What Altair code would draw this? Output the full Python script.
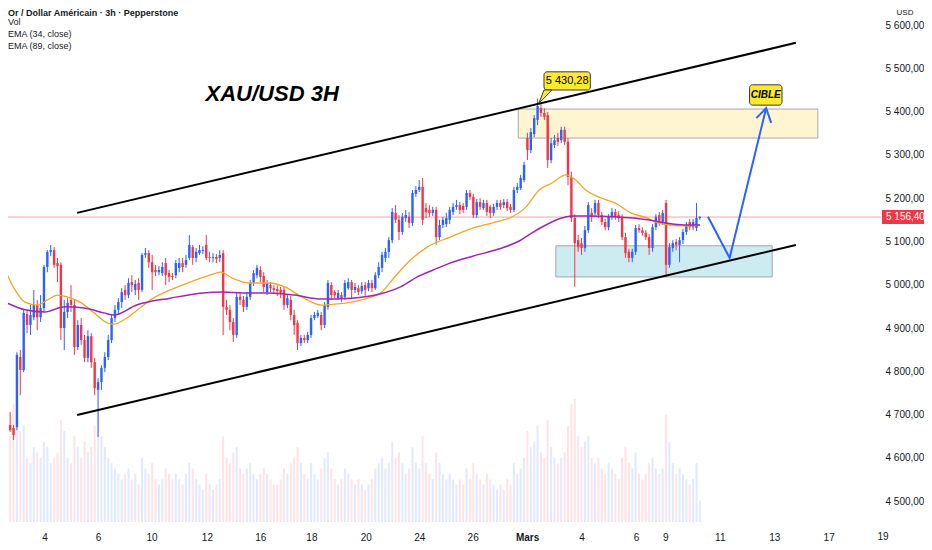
import altair as alt
import pandas as pd

# ---------------- 3h candles (USD) ----------------
opens = [4699,4676,4669,4671,4833,4803,4932,4907,4925,4953,
 4925,4946,5041,5076,5080,5050,5046,4900,4937,4965,
 4953,4856,4907,4872,4831,4881,4821,4757,4775,4808,
 4833,4872,4923,4942,4960,4988,4976,5006,4988,5004,
 4988,5069,5073,5052,5034,5029,5027,5050,5027,5020,
 5022,5039,5050,5046,5062,5087,5062,5073,5078,5092,
 5064,5062,5064,5062,5073,4949,4942,4914,4884,4972,
 4965,4949,4972,5004,5022,5034,5020,4983,4999,4992,
 4990,4988,4988,4953,4965,4930,4912,4865,4877,4872,
 4884,4923,4928,4930,4907,4949,4999,4983,4969,4976,
 4972,4992,5006,4988,4992,4985,4999,4992,5004,4992,
 5022,5039,5062,5076,5103,5166,5150,5122,5154,5157,
 5143,5210,5219,5226,5177,5173,5166,5173,5110,5138,
 5140,5150,5168,5180,5184,5182,5180,5212,5203,5161,
 5191,5177,5189,5180,5166,5180,5189,5184,5191,5180,
 5173,5219,5223,5242,5339,5311,5348,5381,5408,5397,
 5392,5288,5323,5339,5334,5358,5330,5249,5154,5103,
 5096,5085,5126,5166,5166,5189,5161,5145,5133,5157,
 5168,5161,5157,5110,5076,5062,5076,5131,5126,5120,
 5110,5085,5133,5161,5145,5189,5046,5085,5099,5092,
 5103,5122,5145,5133,5131,5154]
closes = [4676,4664,4653,4838,4803,4935,4907,4930,4953,4925,
 4946,5041,5076,5080,5046,5043,4900,4937,4958,4953,
 4856,4907,4872,4831,4881,4821,4761,4775,4808,4833,
 4872,4923,4942,4960,4983,4976,5004,4999,5002,4988,
 5069,5073,5052,5029,5029,5034,5041,5022,5018,5018,
 5050,5050,5041,5057,5092,5062,5076,5080,5080,5062,
 5062,5064,5059,5069,4949,4942,4914,4884,4972,4965,
 4949,4972,5004,5027,5039,5018,4995,5004,4992,4988,
 4985,4981,4953,4969,4930,4907,4865,4877,4872,4884,
 4923,4930,4935,4907,4953,5004,4976,4976,4981,4969,
 5004,5006,4988,4995,4983,4997,4988,5004,4992,5022,
 5041,5069,5076,5103,5168,5150,5122,5157,5161,5143,
 5212,5219,5226,5150,5168,5166,5173,5110,5138,5150,
 5154,5173,5180,5184,5173,5173,5212,5203,5161,5191,
 5180,5189,5168,5166,5180,5189,5180,5191,5177,5173,
 5219,5226,5247,5277,5311,5353,5385,5413,5397,5388,
 5288,5327,5334,5330,5358,5330,5249,5154,5096,5087,
 5085,5126,5184,5157,5189,5161,5145,5133,5157,5168,
 5157,5154,5110,5073,5062,5076,5131,5126,5120,5110,
 5085,5133,5157,5145,5166,5046,5087,5096,5092,5103,
 5122,5138,5133,5145,5154,5156.4]
highs = [4722,4706,4676,4844,4849,4942,4942,4953,4988,4965,
 4976,5046,5080,5092,5087,5062,5052,4965,4969,4999,
 4965,4918,4923,4884,4895,4888,4831,4784,4814,4844,
 4884,4930,4953,4969,4992,4999,5015,5022,5011,5015,
 5073,5085,5080,5069,5046,5043,5052,5062,5034,5027,
 5057,5062,5062,5069,5115,5092,5085,5092,5089,5115,
 5076,5073,5071,5080,5080,4965,4953,4923,4983,4981,
 4974,4983,5011,5034,5046,5043,5029,5011,5006,4999,
 4999,4995,4997,4976,4974,4942,4918,4884,4884,4891,
 4930,4937,4942,4937,4960,5011,5006,4988,4988,4983,
 5011,5015,5011,5004,4999,5006,5006,5011,5011,5029,
 5052,5076,5085,5110,5177,5184,5161,5166,5173,5168,
 5219,5228,5242,5247,5189,5184,5180,5180,5150,5157,
 5166,5180,5189,5196,5191,5189,5219,5219,5210,5198,
 5200,5196,5196,5184,5187,5196,5196,5198,5198,5187,
 5226,5235,5254,5284,5351,5362,5392,5430.28,5418,5408,
 5399,5339,5346,5351,5365,5365,5339,5261,5163,5115,
 5108,5136,5191,5177,5196,5196,5168,5152,5163,5177,
 5175,5170,5163,5120,5083,5083,5138,5140,5133,5126,
 5117,5140,5163,5168,5173,5196,5096,5103,5106,5110,
 5129,5145,5152,5152,5189,5159]
lows = [4669,4660,4641,4664,4745,4798,4888,4884,4918,4895,
 4914,4937,5029,5066,5039,5006,4872,4849,4923,4937,
 4838,4849,4861,4821,4821,4808,4745,4648,4757,4798,
 4826,4865,4914,4930,4946,4965,4969,4983,4976,4965,
 4983,5062,5039,4988,5020,5022,5020,4999,5006,5011,
 5015,5029,5029,5039,5057,5046,5052,5069,5071,5057,
 5052,5052,5050,5052,4884,4930,4895,4868,4877,4953,
 4937,4942,4965,4997,5015,5006,4983,4976,4983,4979,
 4974,4969,4942,4946,4918,4884,4849,4858,4865,4865,
 4877,4918,4923,4895,4900,4942,4965,4969,4965,4960,
 4965,4988,4969,4981,4976,4979,4974,4985,4983,4988,
 5015,5029,5052,5062,5096,5143,5103,5115,5145,5131,
 5136,5203,5214,5138,5154,5157,5159,5092,5103,5131,
 5133,5140,5161,5173,5163,5166,5173,5196,5154,5154,
 5173,5173,5159,5154,5159,5173,5173,5177,5170,5166,
 5168,5212,5219,5237,5288,5304,5341,5369,5388,5381,
 5270,5281,5316,5321,5327,5323,5230,5145,4995,5076,
 5069,5076,5120,5145,5159,5154,5138,5126,5126,5150,
 5150,5145,5103,5062,5052,5052,5069,5120,5113,5103,
 5069,5076,5126,5136,5138,5018,5039,5076,5080,5052,
 5094,5115,5126,5126,5124,5150]
volumes = [95,80,110,100,85,90,60,55,70,65,
 60,75,70,55,60,65,95,85,60,55,
 80,70,60,75,65,70,90,105,80,70,
 60,55,50,45,40,45,50,40,45,35,
 60,50,45,55,40,35,40,50,45,40,
 45,40,35,45,55,50,40,35,30,45,
 35,30,35,40,80,60,55,65,70,50,
 45,50,55,45,40,45,50,45,40,35,
 35,40,50,45,55,60,70,55,45,40,
 55,45,40,50,60,65,50,40,35,40,
 50,45,40,35,40,35,30,35,40,50,
 55,60,50,55,75,60,65,55,45,50,
 70,55,50,80,55,45,40,65,55,45,
 40,45,40,35,40,35,50,40,55,45,
 40,35,45,40,35,30,35,30,40,35,
 55,45,50,60,85,70,75,90,65,60,
 95,70,60,55,60,65,90,110,115,80,
 70,75,80,60,55,60,50,45,55,50,
 45,40,60,70,55,50,65,45,40,45,
 55,60,50,45,50,100,75,55,45,50,
 45,40,35,40,55,20]

# ---------------- EMA readings (bar position, price) ----------------
ema34_pos = [-0.5,2.43,5.35,9.15,12.08,15.0,17.92,22.02,25.82,29.62,31.67,35.47,38.98,43.36,48.33,
             54.18,60.03,63.25,66.75,71.73,77.57,82.25,87.22,93.07,96.87,101.84,106.81,110.61,114.42,
             119.39,124.36,131.08,137.81,143.65,149.5,153.6,157.49,161.29,165.39,168.3,171.23,174.94,
             179.91,184.59,189.56,192.49,196.29,200.38,205.06]
ema34_val = [5034,4988,4960,4953,4965,4976,4972,4958,4935,4912,4909,4923,4944,4969,4988,
             5006,5022,5029,5015,5004,5004,4995,4972,4953,4955,4960,4969,4981,5015,
             5057,5087,5110,5131,5143,5157,5180,5219,5235,5254,5242,5219,5203,
             5189,5166,5154,5143,5138,5136,5138]
ema89_pos = [-0.5,5.35,11.2,17.05,22.89,28.74,31.67,38.39,48.33,58.04,63.83,69.68,77.57,85.18,93.07,
             101.84,110.61,116.46,121.43,126.11,131.08,137.81,145.7,151.55,155.35,159.44,164.12,167.05,
             171.23,179.91,189.56,194.53,200.38,205.06]
ema89_val = [4960,4942,4937,4949,4946,4935,4930,4953,4969,4981,4983,4981,4981,4976,4967,
             4969,4979,4995,5018,5034,5050,5066,5083,5101,5120,5138,5154,5159,
             5159,5157,5150,5143,5138,5138]

# ---------------- drawings ----------------
channel_pos = [20.8, 233.4]
channel_upper = [5166, 5559]
channel_lower = [4699, 5092]
arrow_pos = [207.4, 213.8, 224.6]
arrow_val = [5157, 5062, 5408]
head_pos = [221.7, 224.6, 226.1]
head_val = [5385, 5408, 5374]
zone_x1 = [151.3, 162.4]
zone_x2 = [239.9, 226.4]
zone_top = [5406, 5090]
zone_bottom = [5339, 5018]
zone_fill = ["#fff5cc", "#c8ebf1"]
last_price = 5156.40

x_tick_pos = [11.2, 27.0, 42.8, 59.2, 75.0, 90.1, 106.2, 122.0, 137.8, 153.9,
              170.0, 186.1, 194.8, 210.9, 227.0, 243.1]
x_tick_txt = ["4", "6", "10", "12", "16", "18", "20", "24", "26", "Mars",
              "4", "6", "9", "11", "13", "17"]
x_last_pos = [259.2]
x_last_txt = ["19"]
y_ticks = [4500, 4600, 4700, 4800, 4900, 5000, 5100, 5200, 5300, 5400, 5500, 5600]

FONT = "Liberation Sans, Arial, sans-serif"
TXT = "#131722"

n = len(opens)
bars = pd.DataFrame({"bar": list(range(n)), "open": opens, "close": closes,
                     "high": highs, "low": lows, "vol": volumes})
bars["dir"] = ["up" if c >= o else "down" for o, c in zip(opens, closes)]

XS = alt.Scale(domain=[1.84, 257.1], nice=False, zero=False)
YS = alt.Scale(domain=[4451.7, 5639.5], nice=False, zero=False)
COL = alt.Scale(domain=["up", "down"], range=["#2962ff", "#f23645"])

label_expr = "''"
for p, t in reversed(list(zip(x_tick_pos, x_tick_txt))):
    label_expr = f"abs(datum.value - {p}) < 0.05 ? '{t}' : ({label_expr})"

x_axis = alt.Axis(values=x_tick_pos, labelExpr=label_expr, domain=False, ticks=False,
                  grid=False, labelFont=FONT, labelFontSize=10, labelColor=TXT, labelPadding=10,
                  labelFlush=False, labelOverlap=False, orient="bottom",
                  labelFontWeight={"condition": {"test": "abs(datum.value - 153.9) < 0.05", "value": "bold"},
                                   "value": "normal"})
y_axis = alt.Axis(orient="right", values=y_ticks,
                  labelExpr="replace(replace(format(datum.value, ',.2f'), ',', ' '), '.', ',')",
                  domain=False, ticks=False, grid=False, labelFont=FONT, labelFontSize=10,
                  labelColor=TXT, labelPadding=4, labelFlush=False, labelOverlap=False)


def X(field):
    return alt.X(field, scale=XS, title=None)


def Y(field):
    return alt.Y(field, scale=YS, title=None)


# volume (own y scale)
vol_layer = alt.Chart(bars).mark_bar(size=2, opacity=0.14).encode(
    x=X("bar:Q"),
    y=alt.Y("vol:Q", scale=alt.Scale(domain=[0, 480]), axis=None),
    color=alt.Color("dir:N", scale=COL, legend=None))

zones = pd.DataFrame({"x1": zone_x1, "x2": zone_x2, "top": zone_top, "bottom": zone_bottom, "fill": zone_fill})
zone_layer = alt.Chart(zones).mark_rect(stroke="#9aa0a6", strokeWidth=1, opacity=0.9).encode(
    x=alt.X("x1:Q", scale=XS, axis=x_axis, title=None), x2="x2:Q",
    y=alt.Y("top:Q", scale=YS, axis=y_axis, title=None), y2="bottom:Q",
    fill=alt.Fill("fill:N", scale=None))

price_line = alt.Chart(pd.DataFrame({"p": [last_price]})).mark_rule(
    color="#f23645", strokeWidth=1, opacity=0.45).encode(y=Y("p:Q"))

wicks = alt.Chart(bars).mark_rule(strokeWidth=1).encode(
    x=X("bar:Q"), y=Y("low:Q"), y2="high:Q",
    color=alt.Color("dir:N", scale=COL, legend=None))
bodies = alt.Chart(bars).mark_bar(size=2.4).encode(
    x=X("bar:Q"), y=Y("open:Q"), y2="close:Q",
    color=alt.Color("dir:N", scale=COL, legend=None))

ema34 = alt.Chart(pd.DataFrame({"pos": ema34_pos, "v": ema34_val})).mark_line(
    color="#f5a623", strokeWidth=1.3, interpolate="monotone").encode(x=X("pos:Q"), y=Y("v:Q"))
ema89 = alt.Chart(pd.DataFrame({"pos": ema89_pos, "v": ema89_val})).mark_line(
    color="#9c27b0", strokeWidth=1.5, interpolate="monotone").encode(x=X("pos:Q"), y=Y("v:Q"))

chan_df = pd.DataFrame({"pos": channel_pos * 2, "v": channel_upper + channel_lower,
                        "line": ["up", "up", "low", "low"]})
channel = alt.Chart(chan_df).mark_line(color="#000000", strokeWidth=2).encode(
    x=X("pos:Q"), y=Y("v:Q"), detail="line:N")

arrow_df = pd.DataFrame({"pos": arrow_pos + head_pos, "v": arrow_val + head_val,
                         "seg": ["a"] * 3 + ["h"] * 3, "k": [0, 1, 2, 0, 1, 2]})
arrow = alt.Chart(arrow_df).mark_line(color="#2962ff", strokeWidth=2).encode(
    x=X("pos:Q"), y=Y("v:Q"), detail="seg:N", order="k:Q")

# callouts
call_df = pd.DataFrame({"x1": [158.9, 219.7], "x2": [172.6, 229.3],
                        "top": [5492, 5462], "bottom": [5450, 5415]})
call_box = alt.Chart(call_df).mark_rect(fill="#fde92f", stroke="#3a3a3a", strokeWidth=1, cornerRadius=3).encode(
    x=X("x1:Q"), x2="x2:Q", y=Y("top:Q"), y2="bottom:Q")
ptr_df = pd.DataFrame({"pos": [157.4, 158.9, 161.2], "top": [5420, 5450, 5450], "bot": [5420, 5431, 5450]})
pointer = alt.Chart(ptr_df).mark_area(fill="#fde92f", stroke="#3a3a3a", strokeWidth=1).encode(
    x=X("pos:Q"), y=Y("top:Q"), y2="bot:Q")
peak_txt = alt.Chart(pd.DataFrame({"pos": [165.75], "v": [5471], "t": ["5 430,28"]})).mark_text(
    font=FONT, fontSize=11, color="#000000").encode(x=X("pos:Q"), y=Y("v:Q"), text="t:N")
cible_txt = alt.Chart(pd.DataFrame({"pos": [224.5], "v": [5438], "t": ["CIBLE"]})).mark_text(
    font=FONT, fontSize=10, fontWeight="bold", fontStyle="italic", color="#000000").encode(
    x=X("pos:Q"), y=Y("v:Q"), text="t:N")
title_txt = alt.Chart(pd.DataFrame({"pos": [78.5], "v": [5441], "t": ["XAU/USD 3H"]})).mark_text(
    font=FONT, fontSize=22, fontWeight="bold", fontStyle="italic", color="#000000").encode(
    x=X("pos:Q"), y=Y("v:Q"), text="t:N")

# date label that sits under the price scale
last_date = alt.Chart(pd.DataFrame({"pos": x_last_pos, "t": x_last_txt})).mark_text(
    font=FONT, fontSize=10, color=TXT, baseline="top").encode(
    x=X("pos:Q"), y=alt.value(524), text="t:N")

# last price tag on the scale
tag_df = pd.DataFrame({"p": [last_price], "top": [5172.5], "bot": [5140.5], "t": ["5 156,40"]})
tag_box = alt.Chart(tag_df).mark_rect(fill="#f23645").encode(
    x=alt.value(874), x2=alt.value(916), y=Y("top:Q"), y2="bot:Q")
tag_txt = alt.Chart(tag_df).mark_text(font=FONT, fontSize=10, color="#ffffff", align="left").encode(
    x=alt.value(878), y=Y("p:Q"), text="t:N")

one = pd.DataFrame({"a": [0]})


def header(txt, y, weight="normal", x=0, align="left", size=9):
    return alt.Chart(one).mark_text(font=FONT, fontSize=size, fontWeight=weight, color=TXT,
                                    align=align, baseline="middle").encode(
        x=alt.value(x), y=alt.value(y), text=alt.value(txt))


headers = [header("Or / Dollar Américain · 3h · Pepperstone", 4.5, "bold"),
           header("Vol", 14), header("EMA (34, close)", 26), header("EMA (89, close)", 38),
           header("USD", 4.5, x=897, align="center", size=8)]

price_layers = alt.layer(zone_layer, price_line, wicks, bodies, ema34, ema89, channel, arrow,
                         call_box, pointer, peak_txt, cible_txt, title_txt, last_date,
                         tag_box, tag_txt, *headers)

chart = alt.layer(vol_layer, price_layers).resolve_scale(y="independent").properties(
    width=873, height=514,
    autosize=alt.AutoSizeParams(type="none"),
    padding={"left": 0, "top": 0, "right": 43, "bottom": 20},
).configure_view(stroke=None)

chart.save("out.html", embed_options={"renderer": "svg", "actions": False})
